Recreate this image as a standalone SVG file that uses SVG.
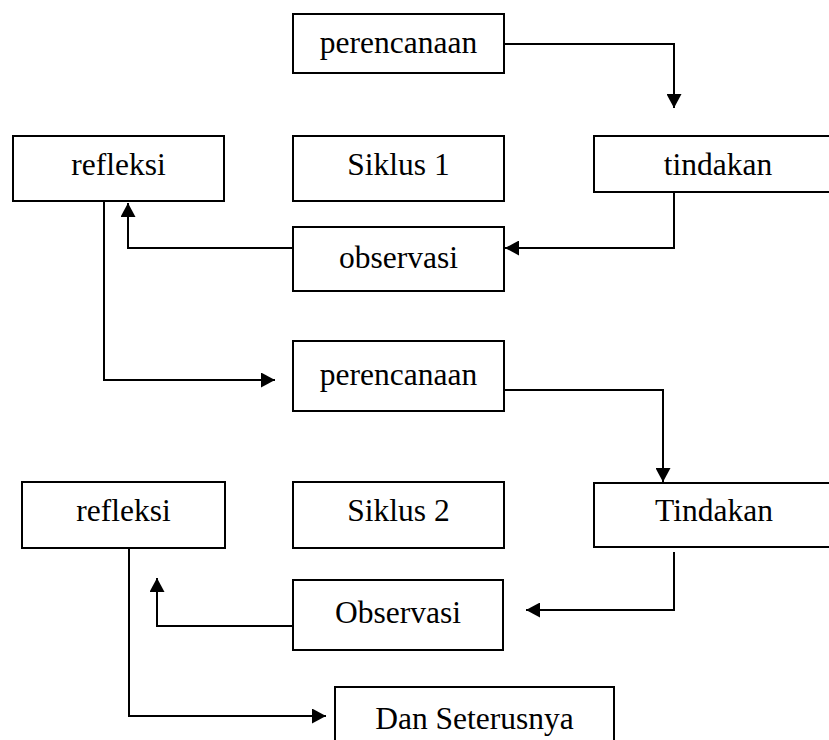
<svg xmlns="http://www.w3.org/2000/svg" width="829" height="740" viewBox="0 0 829 740">
<style>
.box{fill:#fff;stroke:#000;stroke-width:2}
.lbl{font-family:"Liberation Serif","Times New Roman",serif;font-size:31.5px;fill:#000;text-anchor:middle}
.conn{fill:none;stroke:#000;stroke-width:2}
</style>
<defs>
<marker id="ah" markerUnits="userSpaceOnUse" markerWidth="14" markerHeight="15" refX="14" refY="7.5" orient="auto">
<path d="M0,0 L14,7.5 L0,15 z" fill="#000"/>
</marker>
</defs>
<rect width="829" height="740" fill="#fff"/>
<g id="perencanaan1"><rect class="box" x="293" y="14" width="211" height="59"/><text class="lbl" x="398.5" y="53">perencanaan</text></g>
<g id="refleksi1"><rect class="box" x="13" y="136" width="211" height="65"/><text class="lbl" x="118.5" y="175">refleksi</text></g>
<g id="siklus1"><rect class="box" x="293" y="136" width="211" height="65"/><text class="lbl" x="398.5" y="175">Siklus 1</text></g>
<g id="tindakan1"><rect class="box" x="594" y="136" width="248" height="56"/><text class="lbl" x="718" y="175">tindakan</text></g>
<g id="observasi1"><rect class="box" x="293" y="227" width="211" height="64"/><text class="lbl" x="398.5" y="268">observasi</text></g>
<g id="perencanaan2"><rect class="box" x="293" y="341" width="211" height="70"/><text class="lbl" x="398.5" y="385">perencanaan</text></g>
<g id="refleksi2"><rect class="box" x="22" y="482" width="203" height="66"/><text class="lbl" x="123.5" y="521">refleksi</text></g>
<g id="siklus2"><rect class="box" x="293" y="482" width="211" height="66"/><text class="lbl" x="398.5" y="521">Siklus 2</text></g>
<g id="tindakan2"><rect class="box" x="594" y="483" width="240" height="64"/><text class="lbl" x="714" y="521">Tindakan</text></g>
<g id="observasi2"><rect class="box" x="293" y="580" width="210" height="70"/><text class="lbl" x="398" y="623">Observasi</text></g>
<g id="dan-seterusnya"><rect class="box" x="335" y="687" width="279" height="70"/><text class="lbl" x="474.5" y="729">Dan Seterusnya</text></g>
<g id="connectors">
<path class="conn" d="M504,44 H674 V108" marker-end="url(#ah)"/>
<path class="conn" d="M674,192 V248 H505" marker-end="url(#ah)"/>
<path class="conn" d="M293,248 H128 V203" marker-end="url(#ah)"/>
<path class="conn" d="M104,201 V380 H275" marker-end="url(#ah)"/>
<path class="conn" d="M504,390 H663 V482" marker-end="url(#ah)"/>
<path class="conn" d="M674,552 V610 H526" marker-end="url(#ah)"/>
<path class="conn" d="M293,626 H157 V578" marker-end="url(#ah)"/>
<path class="conn" d="M129,548 V716 H326" marker-end="url(#ah)"/>
</g>
</svg>
